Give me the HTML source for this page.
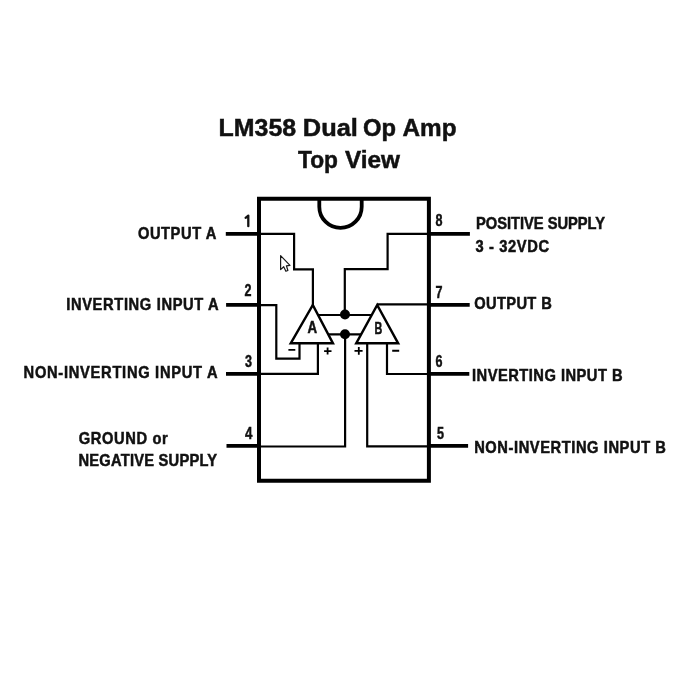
<!DOCTYPE html>
<html><head><meta charset="utf-8">
<style>
html,body{margin:0;padding:0;background:#fff;width:700px;height:700px;overflow:hidden}
svg{position:absolute;left:0;top:0;will-change:transform}
text{font-family:"Liberation Sans",sans-serif;font-weight:bold;fill:#111}
</style></head><body>
<svg width="700" height="700" viewBox="0 0 700 700">
<!-- title -->
<g font-size="24.5" stroke="#111" stroke-width="0.5">
<text x="218.6" y="135.6" textLength="77.5" lengthAdjust="spacingAndGlyphs">LM358</text>
<text x="302.8" y="135.6" textLength="55" lengthAdjust="spacingAndGlyphs">Dual</text>
<text x="363" y="135.6" textLength="33" lengthAdjust="spacingAndGlyphs">Op</text>
<text x="402.5" y="135.6" textLength="54" lengthAdjust="spacingAndGlyphs">Amp</text>
<text x="298" y="167.6" textLength="40" lengthAdjust="spacingAndGlyphs">Top</text>
<text x="345" y="167.6" textLength="55" lengthAdjust="spacingAndGlyphs">View</text>
</g>


<g fill="none" stroke="#000" stroke-linecap="butt" stroke-linejoin="miter">
<!-- chip body -->
<path d="M259 198.8 H428.9 V480.8 H259 Z" stroke-width="4"/>
<path d="M319.3 199 V206.7 A21.2 21.2 0 0 0 361.7 206.7 V199" stroke-width="3.8"/>
<!-- pin lines -->
<g stroke-width="3.8">
<path d="M225.8 233.9 H259 M226.1 304.8 H259 M226 373.8 H259 M226.5 445.9 H259"/>
<path d="M429 233.85 H469.9 M429 304.9 H469.7 M429 373.8 H469.3 M429 445.8 H468.1"/>
</g>
<!-- internal wires -->
<g stroke-width="2.2">
<path d="M259 233.9 H294.1 V269.4 H312.9 V306"/>
<path d="M429 233.8 H387.6 V269.1 H344.8 V314.5"/>
<path d="M259 305.2 H276.3 V358.7 H299.5 V343.2"/>
<path d="M259 373.9 H317.9 V343.2"/>
<path d="M429 304.3 H377.2"/>
<path d="M429 374 H387 V343.2"/>
<path d="M259 446.5 H345.1 V334.3"/>
<path d="M429 446.4 H367.2 V343.2"/>
<path d="M318 315.0 H372"/>
<path d="M328 334.3 H361"/>
</g>
<!-- triangles -->
<g stroke-width="2.5" fill="#fff">
<path d="M312.8 305.0 L290.8 343.2 L332.9 343.2 Z"/>
<path d="M377.2 305.0 L356.3 343.2 L398.1 343.2 Z"/>
</g>
<!-- signs -->
<g stroke-width="1.9">
<path d="M288.4 349.9 H295.3 M392.2 350.8 H399.2"/>
<path d="M324.1 351.1 H331.5 M327.6 347.5 V354.6 M354.5 350.8 H362.6 M358.8 347.1 V354.7" stroke-width="1.8"/>
</g>
</g>
<!-- dots -->
<circle cx="345" cy="314.5" r="5" fill="#000"/>
<circle cx="345" cy="334.2" r="5" fill="#000"/>
<!-- op amp letters -->
<text x="307.6" y="332.5" font-size="15.8" textLength="9.6" lengthAdjust="spacingAndGlyphs" stroke="#111" stroke-width="0.5">A</text>
<text x="374.4" y="333.6" font-size="16.5" textLength="7.8" lengthAdjust="spacingAndGlyphs" stroke="#111" stroke-width="0.5">B</text>

<!-- pin numbers -->
<path d="M248.3 226.2 V215.6 L245.6 217.8" fill="none" stroke="#111" stroke-width="2.3" stroke-linecap="round" stroke-linejoin="round"/>
<g font-size="15.8" stroke="#111" stroke-width="0.45">
<text x="244.5" y="296.2" textLength="7.0" lengthAdjust="spacingAndGlyphs">2</text>
<text x="244.9" y="366.9" textLength="7.0" lengthAdjust="spacingAndGlyphs">3</text>
<text x="244.9" y="439.0" textLength="7.4" lengthAdjust="spacingAndGlyphs">4</text>
<text x="435.6" y="226.0" textLength="7.0" lengthAdjust="spacingAndGlyphs">8</text>
<text x="435.6" y="297.6" textLength="7.0" lengthAdjust="spacingAndGlyphs">7</text>
<text x="435.6" y="366.9" textLength="7.0" lengthAdjust="spacingAndGlyphs">6</text>
<text x="437.0" y="438.5" textLength="7.0" lengthAdjust="spacingAndGlyphs">5</text>
</g>

<!-- labels -->
<g font-size="15.8" stroke="#111" stroke-width="0.5">
<text transform="translate(137.9,239.0) scale(0.93,1)" textLength="84.4" lengthAdjust="spacing">OUTPUT A</text>
<text transform="translate(66.2,310.2) scale(0.93,1)" textLength="164.0" lengthAdjust="spacing">INVERTING INPUT A</text>
<text transform="translate(23.6,377.6) scale(0.93,1)" textLength="208.6" lengthAdjust="spacing">NON-INVERTING INPUT A</text>
<text transform="translate(78.7,443.6) scale(0.93,1)" textLength="95.7" lengthAdjust="spacing">GROUND or</text>
<text transform="translate(78.4,466.1) scale(0.93,1)" textLength="149.2" lengthAdjust="spacing">NEGATIVE SUPPLY</text>
<text transform="translate(476.0,229.0) scale(0.93,1)" textLength="138.7" lengthAdjust="spacing">POSITIVE SUPPLY</text>
<text transform="translate(475.5,251.9) scale(0.93,1)" textLength="79.1" lengthAdjust="spacing">3 - 32VDC</text>
<text transform="translate(474.2,309.3) scale(0.93,1)" textLength="83.4" lengthAdjust="spacing">OUTPUT B</text>
<text transform="translate(472.0,380.8) scale(0.93,1)" textLength="161.9" lengthAdjust="spacing">INVERTING INPUT B</text>
<text transform="translate(474.2,452.5) scale(0.93,1)" textLength="206.2" lengthAdjust="spacing">NON-INVERTING INPUT B</text>
</g>

<!-- cursor -->
<path d="M280.6 255.6 V269.6 L283.7 266.7 L285.9 271.3 L287.9 270.5 L286.4 265.8 L290 265.4 Z" fill="#fff" stroke="#1a1a1a" stroke-width="1.2" stroke-linejoin="round"/>
</svg>
</body></html>
